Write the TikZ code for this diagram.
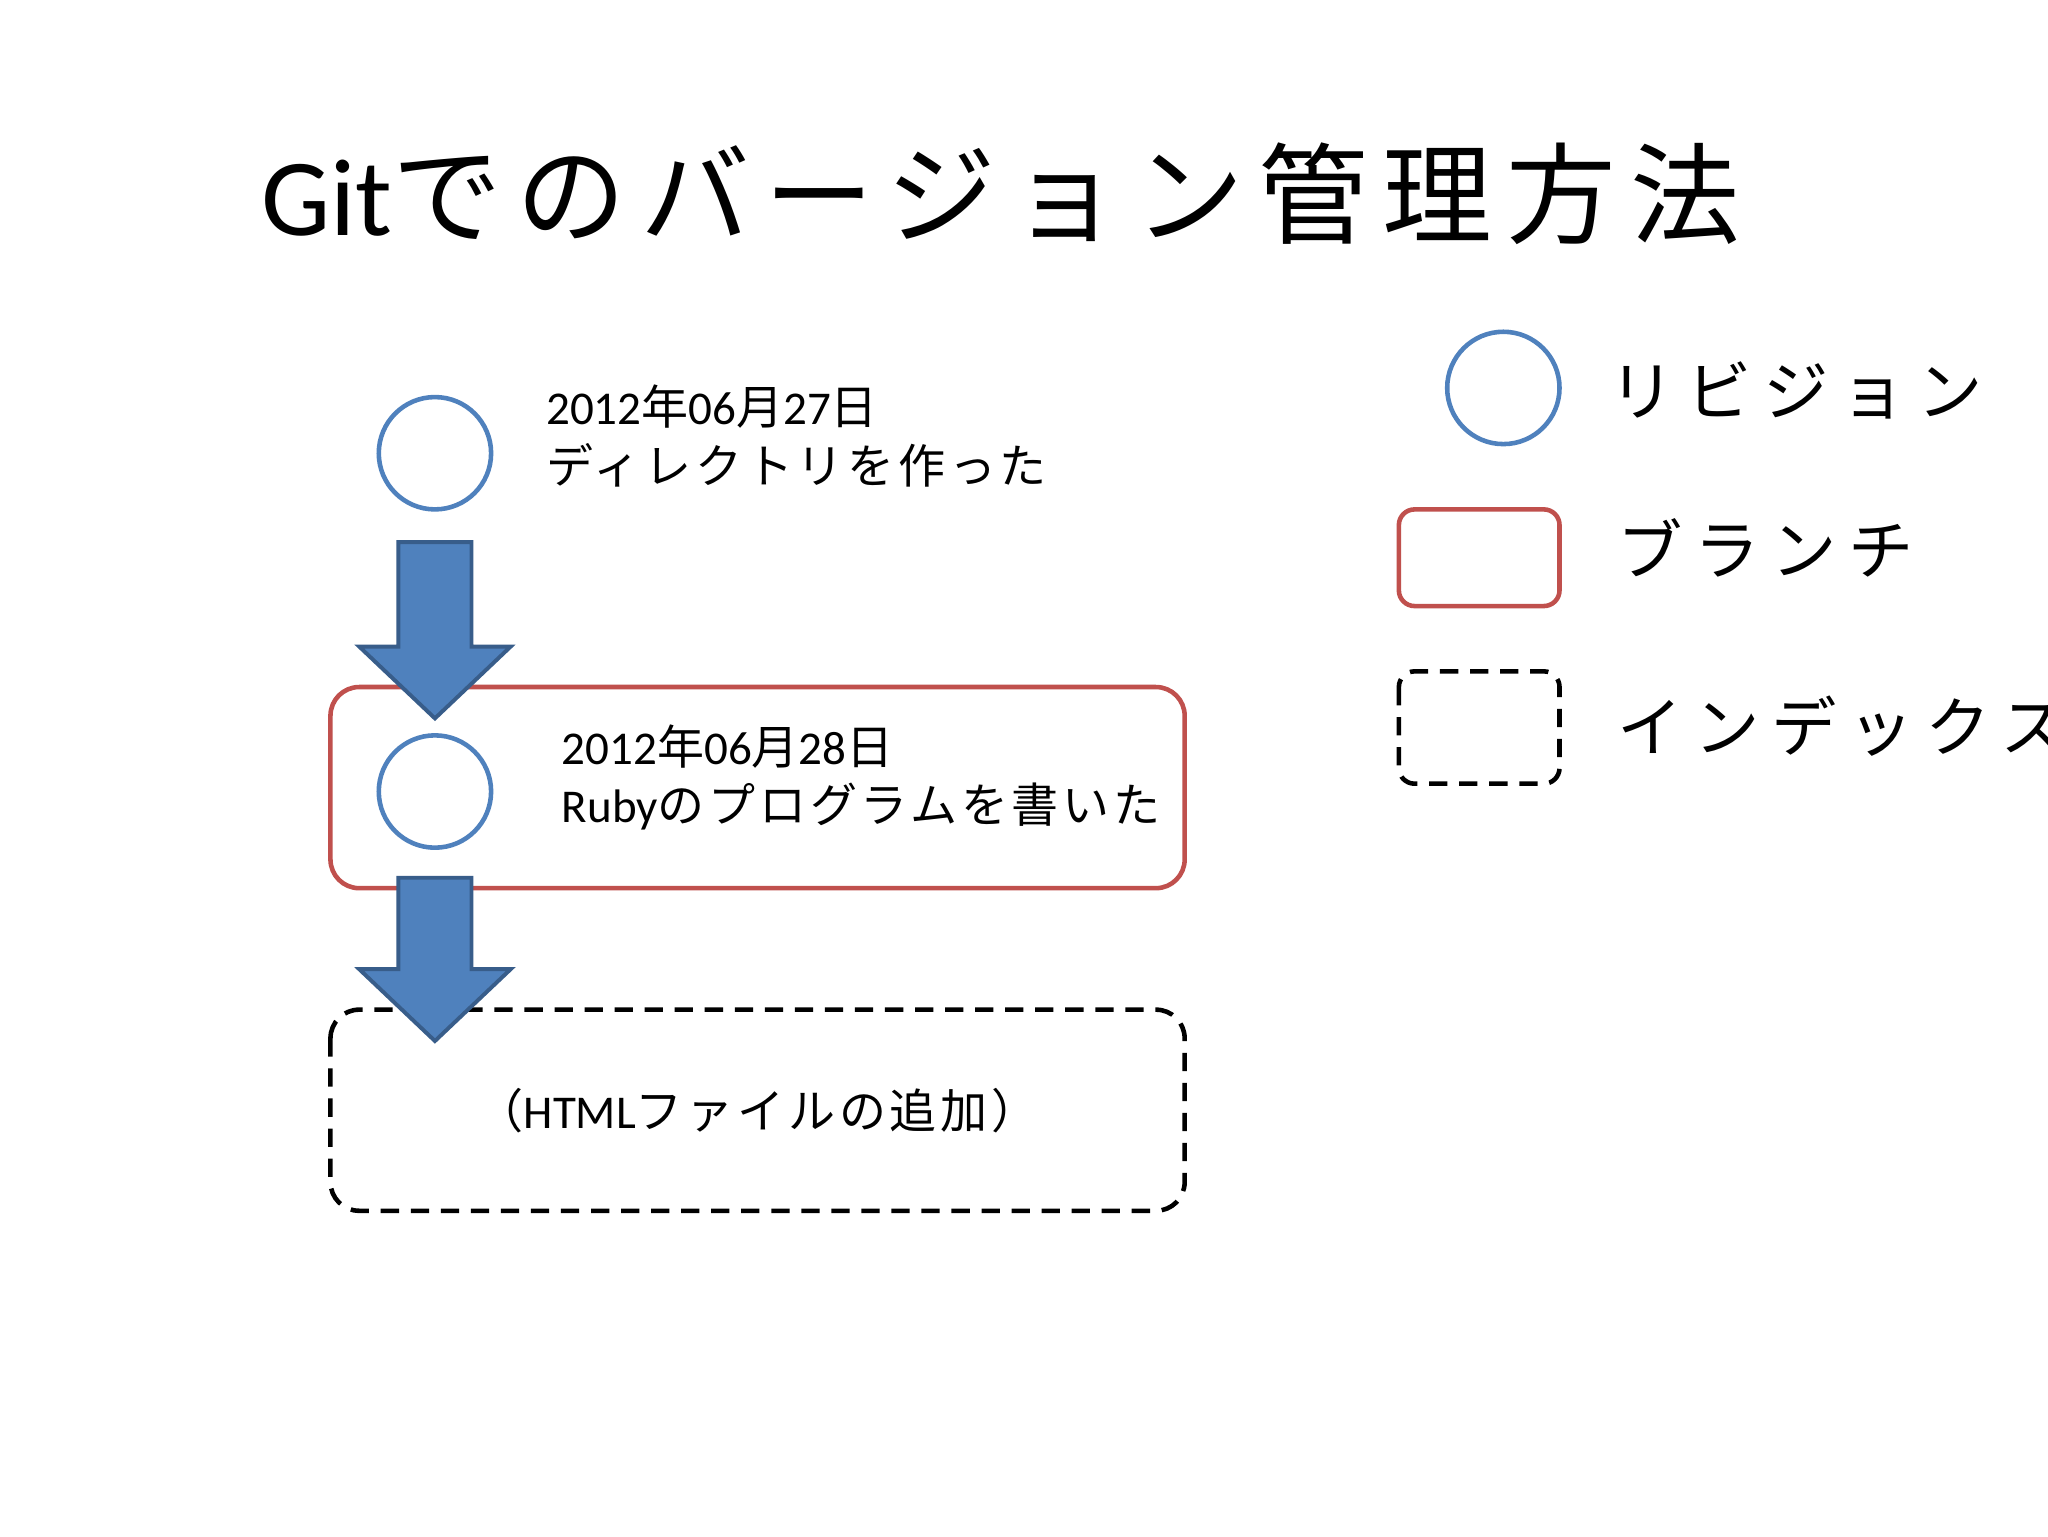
\documentclass[tikz,border=0pt]{standalone}
\usepackage{fontspec}
\setmainfont{Carlito}
\newfontfamily\jp{Noto Sans CJK JP}[LetterSpace=8]
\newfontfamily\jpt{Noto Sans CJK JP}[LetterSpace=13]
\newfontfamily\jpl{Noto Sans CJK JP}[LetterSpace=18]
\definecolor{revblue}{HTML}{4F81BD}
\definecolor{revedge}{HTML}{385D8A}
\definecolor{branchred}{HTML}{C0504D}
\tikzset{
  rev/.style={circle,draw=revblue,line width=3.5pt,minimum size=86pt,inner sep=0pt},
  branchbox/.style={draw=branchred,line width=3.5pt,rounded corners=22pt},
  indexbox/.style={draw=black,line width=3.5pt,rounded corners=22pt,dash pattern=on 14pt off 9pt},
  bigarrow/.style={fill=revblue,draw=revedge,line width=3pt,line join=miter},
  txt/.style={anchor=base west,inner sep=0pt,font=\fontsize{36}{40}\selectfont},
  leg/.style={anchor=base west,inner sep=0pt,font=\fontsize{50}{56}\selectfont\jpl}
}
\begin{document}
\begin{tikzpicture}[x=1pt,y=-1pt]
\useasboundingbox (0,0) rectangle (1568,1176);
\clip (0,0) rectangle (1568,1176);
\fill[white] (0,0) rectangle (1568,1176);
\node[anchor=base west,inner sep=0pt,font=\fontsize{84}{90}\selectfont] (title) at (200,180) {Git{\jpt でのバージョン管理方法}};
% branch and index boxes
\draw[branchbox] (253,526) rectangle (907,680);
\node (branch) at (580,603) {};
\draw[indexbox] (253,773) rectangle (907,927);
\node (index) at (580,850) {};
% revisions
\node[rev] (r1) at (333,347) {};
\node[rev] (r2) at (333,606) {};
% arrows
\draw[bigarrow] (305,415) -- (361,415) -- (361,495) -- (391,495) -- (333,550) -- (275,495) -- (305,495) -- cycle;
\draw[bigarrow] (305,672) -- (361,672) -- (361,742) -- (391,742) -- (333,797) -- (275,742) -- (305,742) -- cycle;
% texts
\node[txt] (t1a) at (418,325) {2012{\jp 年}06{\jp 月}27{\jp 日}};
\node[txt] (t1b) at (418,370) {\jp ディレクトリを作った};
\node[txt] (t2a) at (430,585) {2012{\jp 年}06{\jp 月}28{\jp 日}};
\node[txt] (t2b) at (430,630) {Ruby{\jp のプログラムを書いた}};
\node[font=\fontsize{36}{40}\selectfont,inner sep=0pt] (t3) at (580,850) {{\jp （}HTML{\jp ファイルの追加）}};
% legend
\node[rev] (lr) at (1151,297) {};
\node[leg] (lrt) at (1232,318) {リビジョン};
\draw[branchbox,rounded corners=12pt] (1071,390) rectangle (1194,464);
\node[leg] (lbt) at (1238,440) {ブランチ};
\draw[indexbox,rounded corners=12pt] (1071,514) rectangle (1194,600);
\node[leg] (lit) at (1238,575) {インデックス};
\end{tikzpicture}
\end{document}
